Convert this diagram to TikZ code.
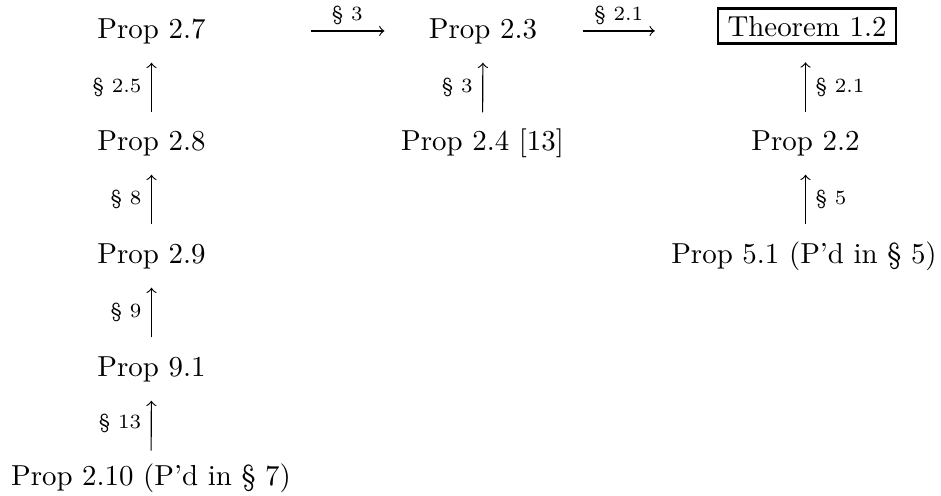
\documentclass[tikz,border=0pt]{standalone}
\usetikzlibrary{arrows}
\begin{document}
\begin{tikzpicture}[x=0.346pt,y=-0.346pt,>=to,line width=0.4pt,
  prop/.style={anchor=base,inner sep=0pt,text height=6.83pt,text depth=1.94pt},
  thmbox/.style={anchor=base,draw,line width=0.9pt,inner xsep=3.3pt,inner ysep=2.6pt,text height=6.83pt,text depth=0pt},
  lab/.style={font=\scriptsize,inner sep=3.3pt},
  harrow/.style={->},
  varrow/.style={->}]
\useasboundingbox (0,0) rectangle (941,495);
% nodes
\node[prop] (p27) at (151.5,38) {Prop 2.7};
\node[prop] (p23) at (483,38) {Prop 2.3};
\node[thmbox] (thm) at (807,36) {Theorem 1.2};
\node[prop] (p28) at (151.5,150) {Prop 2.8};
\node[prop] (p24) at (482.5,150) {Prop 2.4 [13]};
\node[prop] (p22) at (805.5,150) {Prop 2.2};
\node[prop] (p29) at (151.5,263) {Prop 2.9};
\node[prop] (p51) at (804,263) {Prop 5.1 (P'd in \S~5)};
\node[prop] (p91) at (151.5,376) {Prop 9.1};
\node[prop] (p210) at (151,485) {Prop 2.10 (P'd in \S~7)};
% horizontal arrows
\draw[harrow,shorten <=36.2pt,shorten >=15.2pt] (p27.east) -- node[lab,above,inner sep=2pt,pos=0.635]{\S~3} (p23.west);
\draw[harrow,shorten <=15.6pt,shorten >=21.4pt] (p23.east) -- node[lab,above,inner sep=2pt,pos=0.453]{\S~2.1} (thm.west |- p23.east);
% vertical arrows, left column
\draw[varrow,shorten <=6.0pt,shorten >=6.4pt] (p28.north) -- node[lab,left]{\S~2.5} (p27.south);
\draw[varrow,shorten <=6.3pt,shorten >=6.4pt] (p29.north) -- node[lab,left]{\S~8} (p28.south);
\draw[varrow,shorten <=6.3pt,shorten >=6.4pt] (p91.north) -- node[lab,left]{\S~9} (p29.south);
\draw[varrow,shorten <=4.9pt,shorten >=6.4pt] (p210.north) -- node[lab,left]{\S~13} (p91.south);
% middle column
\draw[varrow,shorten <=6.0pt,shorten >=6.4pt] (p24.north) -- node[lab,left]{\S~3} (p23.south);
% right column
\draw[varrow,shorten <=6.0pt,shorten >=6.05pt] (p22.north) -- node[lab,right]{\S~2.1} (p22.north |- thm.south);
\draw[varrow,shorten <=6.3pt,shorten >=6.4pt] (p51.north -| p22.south) -- node[lab,right]{\S~5} (p22.south);
\end{tikzpicture}
\end{document}
